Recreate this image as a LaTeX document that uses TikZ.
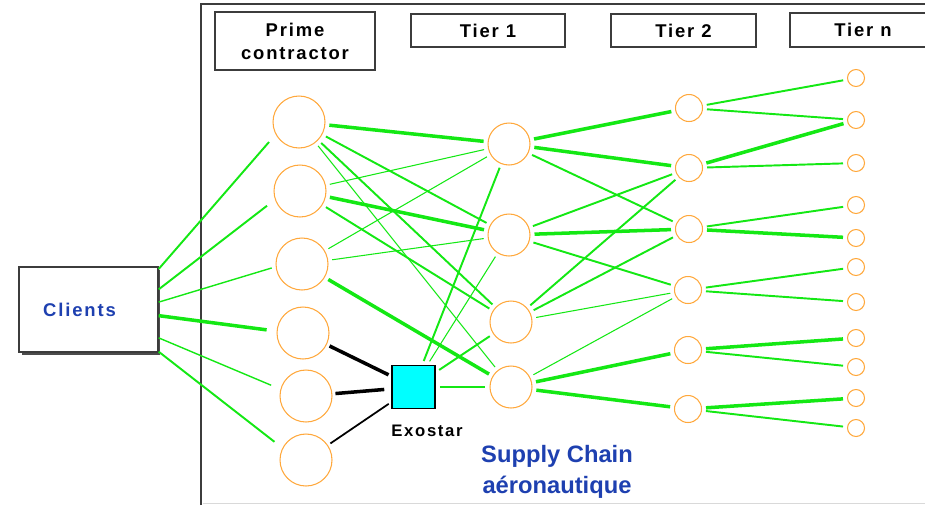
\documentclass[tikz,border=0pt]{standalone}
\usepackage{fontspec}
\setmainfont{Liberation Sans}
\newfontfamily\spacedfont[LetterSpace=10]{Liberation Sans}
\usetikzlibrary{shadows}

\definecolor{linkgreen}{RGB}{20,232,20}
\definecolor{ringorange}{RGB}{255,168,60}
\definecolor{exocyan}{RGB}{0,255,255}
\definecolor{textblue}{RGB}{30,64,176}
\definecolor{framegray}{RGB}{60,60,60}

\begin{document}
\begin{tikzpicture}[x=0.02cm,y=-0.02cm,
    ring/.style={circle,draw=ringorange,line width=0.6pt,inner sep=0pt},
    header/.style={draw=framegray,line width=0.9pt,inner sep=0pt,align=center,
      font=\spacedfont\bfseries\fontsize{10.5}{13}\selectfont},
    link/.style={draw=linkgreen,line width=1.1pt,shorten <=0.08cm,shorten >=0.08cm},
    thinlink/.style={link,line width=0.6pt},
    thicklink/.style={link,line width=2pt},
    clientlink/.style={link,shorten <=0pt,shorten >=0.2cm},
    hublink/.style={draw=black,line width=2pt,shorten <=0.06cm,shorten >=0.06cm}]
  \useasboundingbox (0,0) rectangle (925,505);

  % frame of the supply chain
  \draw[black!15,line width=0.6pt] (203,503.5) -- (925,503.5);
  \draw[framegray,line width=1.2pt] (201,505) -- (201,4) -- (935,4);

  % column headers
  \node[header,minimum width=3.2cm,minimum height=1.16cm] (prime) at (295,41) {Prime\\contractor};
  \node[header,minimum width=3.08cm,minimum height=0.66cm] (tier1) at (488,30.5) {Tier 1};
  \node[header,minimum width=2.9cm,minimum height=0.66cm] (tier2) at (683.5,30.5) {Tier 2};
  \node[header,minimum width=2.92cm,minimum height=0.68cm] (tiern) at (863,30) {Tier n};

  % clients
  \node[draw=framegray,fill=white,line width=0.8pt,minimum width=2.78cm,minimum height=1.7cm,
    drop shadow={shadow xshift=0.05cm,shadow yshift=-0.05cm,fill=black!70,opacity=1},
    text=textblue,font=\spacedfont\bfseries\fontsize{10.5}{12}\selectfont] (cli) at (88.5,309.5) {\hspace*{-0.36cm}Clients};

  % prime contractors
  \node[ring,minimum size=1.04cm] (pc1) at (299,122) {};
  \node[ring,minimum size=1.04cm] (pc2) at (300,191) {};
  \node[ring,minimum size=1.04cm] (pc3) at (302,264) {};
  \node[ring,minimum size=1.04cm] (pc4) at (303,333) {};
  \node[ring,minimum size=1.04cm] (pc5) at (306,396) {};
  \node[ring,minimum size=1.04cm] (pc6) at (306,460) {};

  % tier 1
  \node[ring,minimum size=0.84cm] (ta1) at (509,144) {};
  \node[ring,minimum size=0.84cm] (ta2) at (509,235) {};
  \node[ring,minimum size=0.84cm] (ta3) at (511,322) {};
  \node[ring,minimum size=0.84cm] (ta4) at (511,387) {};

  % tier 2
  \node[ring,minimum size=0.54cm] (tb1) at (689,108) {};
  \node[ring,minimum size=0.54cm] (tb2) at (689,168) {};
  \node[ring,minimum size=0.54cm] (tb3) at (689,229) {};
  \node[ring,minimum size=0.54cm] (tb4) at (688,290) {};
  \node[ring,minimum size=0.54cm] (tb5) at (688,350) {};
  \node[ring,minimum size=0.54cm] (tb6) at (688,409) {};

  % tier n
  \node[ring,minimum size=0.34cm] (tn1) at (856,78) {};
  \node[ring,minimum size=0.34cm] (tn2) at (856,120) {};
  \node[ring,minimum size=0.34cm] (tn3) at (856,163) {};
  \node[ring,minimum size=0.34cm] (tn4) at (856,205) {};
  \node[ring,minimum size=0.34cm] (tn5) at (856,238) {};
  \node[ring,minimum size=0.34cm] (tn6) at (856,267) {};
  \node[ring,minimum size=0.34cm] (tn7) at (856,302) {};
  \node[ring,minimum size=0.34cm] (tn8) at (856,338) {};
  \node[ring,minimum size=0.34cm] (tn9) at (856,367) {};
  \node[ring,minimum size=0.34cm] (tn10) at (856,398) {};
  \node[ring,minimum size=0.34cm] (tn11) at (856,428) {};

  % exostar hub
  \node[draw=black,fill=exocyan,line width=0.9pt,minimum size=0.86cm,inner sep=0pt] (exo) at (413.5,387) {};
  \node[font=\spacedfont\bfseries\fontsize{9.5}{11}\selectfont] (exolbl) at (427,431) {Exostar};
  \node[align=center,text=textblue,font=\bfseries\fontsize{13.5}{18}\selectfont] (chain) at (557,472) {Supply Chain\\aéronautique};

  % clients to prime contractors
  \draw[clientlink] (cli.30) to (pc1.208);
  \draw[clientlink] (cli.16) to (pc2.199);
  \draw[clientlink,line width=0.8pt,shorten >=0.08cm] (cli.6) to (pc3.186);
  \draw[clientlink,line width=2pt] (cli.-5) to (pc4.176);
  \draw[clientlink,line width=0.8pt] (cli.-22) to (pc5.165);
  \draw[clientlink] (cli.-31) to (pc6.153);

  % prime contractors to tier 1
  \begin{scope}
    \draw[thicklink] (pc1) to (ta1);
    \draw[link] (pc1) to (ta2);
    \draw[link] (pc1) to (ta3);
    \draw[thinlink] (pc1) to (ta4);
    \draw[thinlink] (pc2) to (ta1);
    \draw[thicklink] (pc2) to (ta2);
    \draw[link] (pc2) to (ta3);
    \draw[thinlink] (pc3) to (ta1);
    \draw[thinlink] (pc3) to (ta2);
    \draw[thicklink] (pc3) to (ta4);
    \draw[link] (exo) to (ta1);
    \draw[thinlink] (exo) to (ta2);
    \draw[link] (exo) to (ta3);
    \draw[thinlink] (exo) to (ta4);
  \end{scope}

  % prime contractors to exostar
  \draw[hublink] (pc4) to (exo);
  \draw[hublink,shorten >=0.14cm] (pc5) to (exo);
  \draw[hublink,line width=1pt] (pc6) to (exo);

  % tier 1 to tier 2
  \begin{scope}
    \draw[thicklink] (ta1) to (tb1);
    \draw[thicklink] (ta1) to (tb2);
    \draw[link] (ta1) to (tb3);
    \draw[link] (ta2) to (tb2);
    \draw[thicklink] (ta2) to (tb3);
    \draw[link] (ta2) to (tb4);
    \draw[link] (ta3) to (tb2);
    \draw[link] (ta3) to (tb3);
    \draw[thinlink] (ta3) to (tb4);
    \draw[thinlink] (ta4) to (tb4);
    \draw[thicklink] (ta4) to (tb5);
    \draw[thicklink] (ta4) to (tb6);
  \end{scope}

  % tier 2 to tier n
  \begin{scope}
    \draw[link] (tb1) to (tn1);
    \draw[link] (tb1) to (tn2);
    \draw[thicklink] (tb2) to (tn2);
    \draw[link] (tb2) to (tn3);
    \draw[link] (tb3) to (tn4);
    \draw[thicklink] (tb3) to (tn5);
    \draw[link] (tb4) to (tn6);
    \draw[link] (tb4) to (tn7);
    \draw[thicklink] (tb5) to (tn8);
    \draw[link] (tb5) to (tn9);
    \draw[thicklink] (tb6) to (tn10);
    \draw[link] (tb6) to (tn11);
  \end{scope}
\end{tikzpicture}
\end{document}
